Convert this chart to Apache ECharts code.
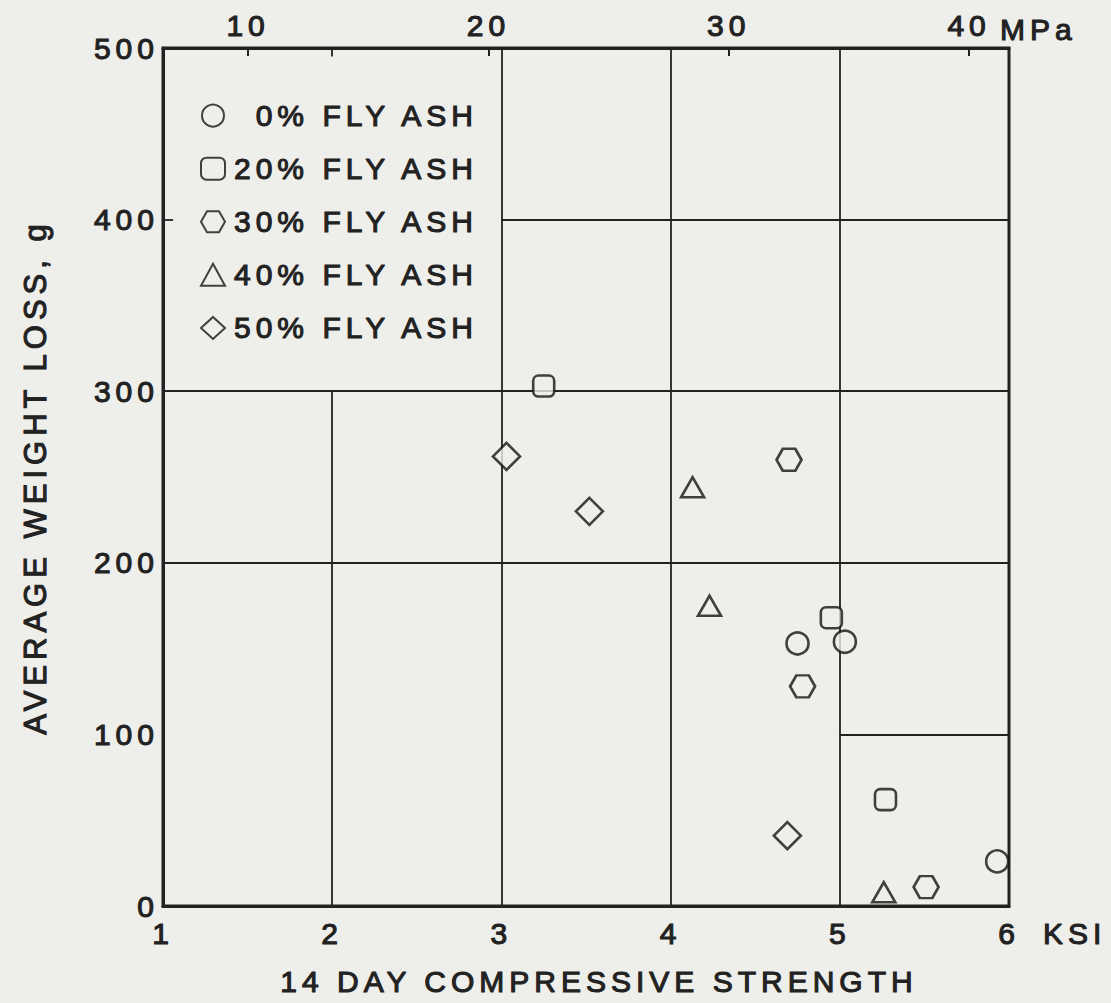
<!DOCTYPE html>
<html>
<head>
<meta charset="utf-8">
<script src="https://cdn.jsdelivr.net/npm/echarts@6/dist/echarts.min.js"></script>
<style>
  html, body { margin: 0; padding: 0; background: #eeeeeb; }
  #main { width: 1111px; height: 1003px; }
  #main text { letter-spacing: 5px; }
</style>
</head>
<body>
<div id="main"></div>
<script>
// ---- data ----
const seriesNames = ['0% FLY ASH', '20% FLY ASH', '30% FLY ASH', '40% FLY ASH', '50% FLY ASH'];
const ash0  = [[4.75, 153], [5.03, 154], [5.93, 26]];
const ash20 = [[3.25, 303], [4.95, 168], [5.27, 62]];
const ash30 = [[4.70, 260], [4.78, 128], [5.51, 11]];
const ash40 = [[4.13, 244], [4.23, 175], [5.26, 8]];
const ash50 = [[3.03, 262], [3.52, 230], [4.69, 41]];
const ksiRange = [1, 6];
const ksiTicks = [1, 2, 3, 4, 5, 6];
const weightRange = [0, 500];
const mpaRange = [6.46, 41.66];    // top scale as drawn in the original
const mpaTicks = [10, 20, 30, 40];
// partial grid lines (ksi, g) – the original's staircase grid
const gridSegments = [
  [[2, 0], [2, 300]],
  [[3, 0], [3, 500]],
  [[4, 0], [4, 500]],
  [[5, 0], [5, 500]],
  [[3, 400], [6, 400]],
  [[1, 300], [6, 300]],
  [[1, 200], [6, 200]],
  [[5, 100], [6, 100]],
  [[1, 400], [1.06, 400]],
  [[2, 500], [2, 495]]
];

const BG = '#eeeeeb';
const INK = '#222222';
const MARK = '#141414';
const FONT = 'Liberation Sans';
const hexagon = 'path://M-1,0 L-0.5,-0.866 L0.5,-0.866 L1,0 L0.5,0.866 L-0.5,0.866 Z';

const chart = echarts.init(document.getElementById('main'), null, { renderer: 'svg' });

const txt = { fontSize: 30, color: INK, fontFamily: FONT, textBorderColor: INK, textBorderWidth: 1.1 };
const markerStyle = { color: BG, borderColor: MARK, borderWidth: 2.6 };
function scatter(name, data, symbol, size) {
  return {
    name: name, type: 'scatter', data: data, symbol: symbol, symbolSize: size,
    itemStyle: markerStyle, z: 5, silent: true
  };
}

const option = {
  backgroundColor: BG,
  animation: false,
  textStyle: { fontFamily: FONT, color: INK },
  grid: {
    left: 163, right: 102, top: 48, bottom: 97,
    show: true, borderColor: INK, borderWidth: 3, backgroundColor: 'transparent'
  },
  legend: {
    orient: 'vertical', left: 195, top: 95,
    itemWidth: 24, itemHeight: 22, itemGap: 22,
    data: seriesNames,
    formatter: n => n.indexOf('0%') === 0 ? '\u2007' + n : n,
    textStyle: Object.assign({}, txt, { lineHeight: 30, padding: [0, 0, 0, 4] }),
    selectedMode: false
  },
  xAxis: [
    {
      type: 'value', position: 'bottom', min: ksiRange[0], max: ksiRange[1], interval: 1,
      name: '14 DAY COMPRESSIVE STRENGTH', nameLocation: 'middle', nameGap: 60,
      nameTextStyle: Object.assign({}, txt, { padding: [0, 0, 0, 26] }),
      axisLine: { show: true, lineStyle: { color: INK, width: 3 } },
      axisTick: { show: false },
      splitLine: { show: false },
      axisLabel: Object.assign({}, txt, { margin: 12, customValues: ksiTicks })
    },
    {
      type: 'value', position: 'top', min: mpaRange[0], max: mpaRange[1],
      axisLine: { show: true, lineStyle: { color: INK, width: 3 } },
      axisTick: { show: true, inside: true, length: 8, customValues: mpaTicks, lineStyle: { color: INK, width: 2 } },
      splitLine: { show: false },
      axisLabel: Object.assign({}, txt, { customValues: mpaTicks, margin: 8 })
    }
  ],
  yAxis: {
    type: 'value', min: weightRange[0], max: weightRange[1], interval: 100,
    name: 'AVERAGE WEIGHT LOSS, g', nameLocation: 'middle', nameGap: 112,
    nameTextStyle: Object.assign({}, txt, { fontSize: 31 }),
    axisLine: { show: true, lineStyle: { color: INK, width: 3 } },
    axisTick: { show: false },
    splitLine: { show: false },
    axisLabel: Object.assign({}, txt, { margin: 4 })
  },
  graphic: [],
  series: [
    {
      type: 'lines', coordinateSystem: 'cartesian2d', silent: true, z: 1,
      data: gridSegments.map(s => ({ coords: s })),
      lineStyle: { color: INK, width: 1.8, opacity: 1 }
    },
    scatter(seriesNames[0], ash0, 'circle', 22),
    scatter(seriesNames[1], ash20, 'roundRect', 21),
    scatter(seriesNames[2], ash30, hexagon, [25, 22]),
    scatter(seriesNames[3], ash40, 'triangle', [23, 20]),
    scatter(seriesNames[4], ash50, 'diamond', [27, 27])
  ]
};
chart.setOption(option);

// unit labels next to the last tick labels, placed from the axes' own scales
function placeUnits() {
  const pKsi = chart.convertToPixel({ xAxisIndex: 0 }, ksiRange[1]);
  const pMpa = chart.convertToPixel({ xAxisIndex: 1 }, mpaTicks[mpaTicks.length - 1]);
  const pY0 = chart.convertToPixel({ yAxisIndex: 0 }, weightRange[0]);
  const pY1 = chart.convertToPixel({ yAxisIndex: 0 }, weightRange[1]);
  const st = { fill: INK, font: '30px "Liberation Sans"', stroke: INK, lineWidth: 1.1 };
  chart.setOption({
    graphic: [
      { type: 'text', x: pKsi + 34, y: pY0 + 27, style: Object.assign({ text: 'KSI', textVerticalAlign: 'middle' }, st), silent: true },
      { type: 'text', x: pMpa + 31, y: pY1 - 19, style: Object.assign({ text: 'MPa', textVerticalAlign: 'middle' }, st), silent: true }
    ]
  });
}
placeUnits();
</script>
</body>
</html>
